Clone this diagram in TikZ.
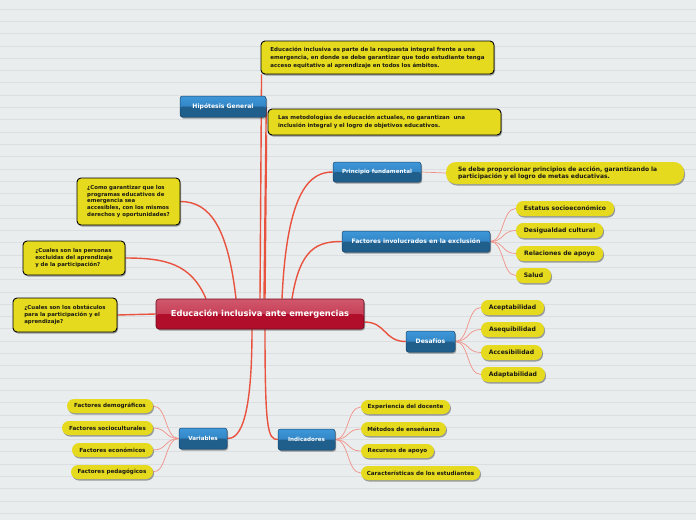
\documentclass[tikz,border=0pt]{standalone}
\usepackage{fontspec}
\setmainfont{DejaVu Sans}
\usetikzlibrary{shadows}
\definecolor{bg}{RGB}{233,237,238}
\definecolor{bgline}{RGB}{219,223,225}
\definecolor{yel}{RGB}{230,218,30}
\definecolor{mainred}{RGB}{232,82,62}
\definecolor{subred}{RGB}{240,145,135}
\definecolor{bluetop}{RGB}{62,152,218}
\definecolor{bluemid}{RGB}{38,115,175}
\definecolor{bluelow}{RGB}{32,94,140}
\definecolor{blueedge}{RGB}{25,70,110}
\definecolor{redtop}{RGB}{208,88,108}
\definecolor{redmid}{RGB}{190,40,68}
\definecolor{redlow}{RGB}{176,14,42}
\definecolor{rededge}{RGB}{115,10,30}
\definecolor{ink}{RGB}{25,25,20}
\pgfdeclarelayer{bgl}
\pgfdeclarelayer{edges}
\pgfsetlayers{bgl,edges,main}
\tikzset{
  shad/.style={drop shadow={shadow xshift=1pt, shadow yshift=-1.5pt, opacity=0.35, fill=black}},
  conn/.style={draw=mainred, line width=1.4pt},
  subconn/.style={draw=subred, line width=0.7pt},
  bluebox/.style={shad, rounded corners=2.5pt, draw=blueedge, line width=0.5pt,
    top color=bluetop, bottom color=bluemid, text=white, inner sep=0pt,
    minimum height=21, font=\fontsize{6.1}{7}\bfseries\selectfont,
    path picture={\fill[bluelow] (path picture bounding box.west) rectangle (path picture bounding box.south east);}},
  rootbox/.style={shad, rounded corners=3pt, draw=rededge, line width=0.6pt,
    top color=redtop, bottom color=redmid, text=white, inner sep=0pt,
    minimum width=208, minimum height=30, font=\fontsize{8.3}{9}\bfseries\selectfont,
    path picture={\fill[redlow] (path picture bounding box.west) rectangle (path picture bounding box.south east);}},
  ybox/.style={shad, rounded corners=4pt, draw=black, line width=0.9pt, fill=yel,
    text=ink, inner xsep=4pt, inner ysep=0pt, align=left},
  qfont/.style={font=\fontsize{5.4}{6.6}\bfseries\selectfont},
  bfont/.style={font=\fontsize{5.5}{8}\bfseries\selectfont},
  pill/.style={shad, rounded corners=7pt, fill=yel, text=ink, inner sep=0pt,
    minimum height=15, font=\fontsize{6.1}{7}\bfseries\selectfont},
  pills/.style={pill, minimum height=14, font=\fontsize{5.6}{6.5}\bfseries\selectfont},
  smallblue/.style={bluebox, font=\fontsize{5.6}{6.5}\bfseries\selectfont}
}
\begin{document}
\begin{tikzpicture}[x=1pt,y=-1pt]
\useasboundingbox (0,0) rectangle (696,520);
\begin{pgfonlayer}{bgl}
  \fill[bg] (0,0) rectangle (696,520);
  \foreach \k in {0,...,41}
    \draw[bgline, line width=0.9pt] (0,{9.1+12.3*\k}) -- (696,{9.1+12.3*\k});
\end{pgfonlayer}

% root
\node[rootbox] (root) at (260,314) {Educación inclusiva ante emergencias};

% hipotesis
\node[bluebox, minimum width=86] (hip) at (223,106.5) {Hipótesis General};
\node[ybox, bfont, minimum width=233, minimum height=33] (hb1) at (377.5,57.5)
  {Educación inclusiva es parte de la respuesta integral frente a una\\emergencia, en donde se debe garantizar que todo estudiante tenga\\acceso equitativo al aprendizaje en todos los ámbitos.};
\node[ybox, bfont, inner xsep=10pt, text width=213, minimum height=26] (hb2) at (384.5,122)
  {Las metodologías de educación actuales, no garantizan \ una\\inclusión integral y el logro de objetivos educativos.};

% principio
\node[smallblue, minimum width=88, minimum height=20] (prin) at (377,172) {Principio fundamental};
\node[pill, rounded corners=10pt, minimum height=22, inner xsep=12pt, text width=214, align=left,
  font=\fontsize{6}{7.2}\bfseries\selectfont] (prinp) at (565,173)
  {Se debe proporcionar principios de acción, garantizando la\\participación y el logro de metas educativas.};

% factores
\node[bluebox, minimum width=148] (fac) at (416,241.5) {Factores involucrados en la exclusión};
\node[pill, minimum width=98] (f1) at (565,208.5) {Estatus socioeconómico};
\node[pill, minimum width=87] (f2) at (559.5,230.5) {Desigualdad cultural};
\node[pill, minimum width=87] (f3) at (559.5,253.5) {Relaciones de apoyo};
\node[pill, minimum width=35] (f4) at (533.5,275.5) {Salud};

% desafios
\node[bluebox, minimum width=49] (des) at (430.5,341.5) {Desafíos};
\node[pill, minimum width=63] (d1) at (512.5,307.5) {Aceptabilidad};
\node[pill, minimum width=63] (d2) at (512.5,329.5) {Asequibilidad};
\node[pill, minimum width=61] (d3) at (511.5,352.5) {Accesibilidad};
\node[pill, minimum width=64] (d4) at (513,374.5) {Adaptabilidad};

% indicadores
\node[smallblue, minimum width=57] (ind) at (306.5,439.5) {Indicadores};
\node[pills, minimum width=89] (i1) at (405.5,407) {Experiencia del docente};
\node[pills, minimum width=85] (i2) at (403.5,429) {Métodos de enseñanza};
\node[pills, minimum width=73] (i3) at (397.5,451) {Recursos de apoyo};
\node[pills, minimum width=119] (i4) at (420.5,473) {Características de los estudiantes};

% variables
\node[smallblue, minimum width=48] (var) at (203,438.5) {Variables};
\node[pills, minimum width=86] (v1) at (110,406) {Factores demográficos};
\node[pills, minimum width=91] (v2) at (107.5,428) {Factores socioculturales};
\node[pills, minimum width=81] (v3) at (112.5,450) {Factores económicos};
\node[pills, minimum width=82] (v4) at (112,472) {Factores pedagógicos};

% questions
\node[ybox, qfont, minimum width=103, minimum height=47] (q1) at (128.5,201.5)
  {¿Como garantizar que los\\programas educativos de\\emergencia sea\\accesibles, con los mismos\\derechos y oportunidades?\hspace{3pt}};
\node[ybox, qfont, minimum width=102, minimum height=34] (q2) at (74,258)
  {¿Cuales son las personas\\excluidas del aprendizaje\\y de la participación?\hspace{5pt}};
\node[ybox, qfont, minimum width=104, minimum height=34] (q3) at (65,315)
  {¿Cuales son los obstáculos\\para la participación y el\\aprendizaje?\hspace{8pt}};

\begin{pgfonlayer}{edges}
  \draw[conn] (root.north) -- ([xshift=1pt]hb1.south west);
  \draw[conn] ([xshift=5pt]root.north) -- ([xshift=-1pt]hb2.south west);
  \draw[conn] ([xshift=4pt]root.north) -- (hip.east);
  \draw[conn] ([xshift=22pt]root.north) .. controls +(5,-110) and +(-22,0) .. (prin.west);
  \draw[conn] ([xshift=32pt]root.north) .. controls +(8,-50) and +(-25,0) .. (fac.west);
  \draw[conn] ([yshift=-8pt]root.east) .. controls +(22,0) and +(-22,0) .. (des.west);
  \draw[conn] ([xshift=5pt]root.south) .. controls +(0,100) and +(-10,0) .. (ind.west);
  \draw[conn] ([xshift=-8pt]root.south) .. controls +(0,100) and +(10,0) .. (var.east);
  \draw[conn] ([xshift=-24pt]root.north) .. controls +(-8,-70) and +(30,0) .. (q1.east);
  \draw[conn] ([xshift=-54pt]root.north) .. controls +(-15,-35) and +(40,0) .. (q2.east);
  \draw[conn] (root.west) -- (q3.east);
  \draw[subconn] (prin.east) -- (prinp.west);
  \foreach \c in {f1,f2,f3,f4}
    \draw[subconn] (fac.east) .. controls +(14,0) and +(-14,0) .. (\c.west);
  \foreach \c in {d1,d2,d3,d4}
    \draw[subconn] (des.east) .. controls +(14,0) and +(-14,0) .. (\c.west);
  \foreach \c in {i1,i2,i3,i4}
    \draw[subconn] (ind.east) .. controls +(14,0) and +(-14,0) .. (\c.west);
  \foreach \c in {v1,v2,v3,v4}
    \draw[subconn] (var.west) .. controls +(-14,0) and +(14,0) .. (\c.east);
\end{pgfonlayer}
\end{tikzpicture}
\end{document}
